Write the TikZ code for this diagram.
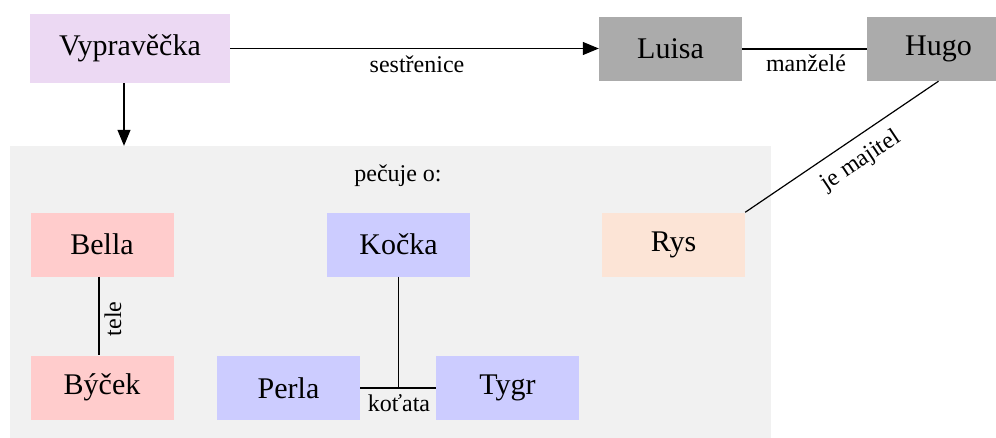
\documentclass[tikz,border=0pt]{standalone}
\usepackage{fontspec}
\setmainfont{Liberation Serif}
\usetikzlibrary{arrows.meta}
\definecolor{vypcol}{RGB}{236,217,243}
\definecolor{graycol}{RGB}{171,171,171}
\definecolor{clustcol}{RGB}{241,241,241}
\definecolor{pinkcol}{RGB}{255,204,204}
\definecolor{bluecol}{RGB}{204,204,255}
\definecolor{peachcol}{RGB}{252,228,214}
\begin{document}
\begin{tikzpicture}[x=1pt,y=-1pt,
  nodebox/.style={inner sep=0pt, minimum width=143pt, minimum height=64pt, font=\fontsize{30}{36}\selectfont},
  lbl/.style={inner sep=0pt, font=\fontsize{24}{29}\selectfont},
  conn/.style={line width=1.2pt, draw=black},
  arr/.style={conn, -{Triangle[length=16pt,width=13pt]}}]
\clip (0,0) rectangle (996,437);
\fill[white] (0,0) rectangle (996,437);
\node[fill=clustcol, inner sep=0pt, minimum width=761pt, minimum height=310pt] (cluster) at (390.5,301) {};
\node[lbl] (pecuje) at (398,176) {pečuje o:};
\node[nodebox, fill=vypcol, minimum width=200pt, minimum height=69pt] (vyp) at (130,48.5) {Vypravěčka};
\node[nodebox, fill=graycol] (luisa) at (670.5,49) {Luisa};
\node[nodebox, fill=graycol] (hugo) at (938.5,49) {Hugo};
\node[nodebox, fill=pinkcol] (bella) at (102,244.5) {Bella};
\node[nodebox, fill=pinkcol] (bycek) at (102,387.5) {Býček};
\node[nodebox, fill=bluecol] (kocka) at (398.5,244.5) {Kočka};
\node[nodebox, fill=bluecol] (perla) at (288.5,388) {Perla};
\node[nodebox, fill=bluecol] (tygr) at (507.5,388) {Tygr};
\node[nodebox, fill=peachcol] (rys) at (673.5,244.5) {Rys};
\coordinate (vypout) at ([xshift=-6pt]vyp.south);
\draw[arr] (vypout) -- (vypout |- cluster.north);
\draw[arr] (vyp.east) -- (vyp.east -| luisa.west);
\node[lbl] (sestr) at (417,64) {sestřenice};
\draw[conn] (luisa.east) -- (hugo.west);
\node[lbl] (manz) at (806,63) {manželé};
\draw[conn] (hugo.south) -- (rys.north east);
\node[lbl, rotate=33.7] (majitel) at (861,161) {je majitel};
\draw[conn] ([xshift=-3pt]bella.south) -- ([xshift=-3pt]bycek.north);
\node[lbl, rotate=90] (tele) at (113,319) {tele};
\draw[conn] (perla.east) -- (tygr.west);
\coordinate (kj) at (kocka.south |- perla.east);
\draw[conn] (kocka.south) -- (kj);
\node[lbl] (kotata) at (399,403) {koťata};
\end{tikzpicture}
\end{document}
